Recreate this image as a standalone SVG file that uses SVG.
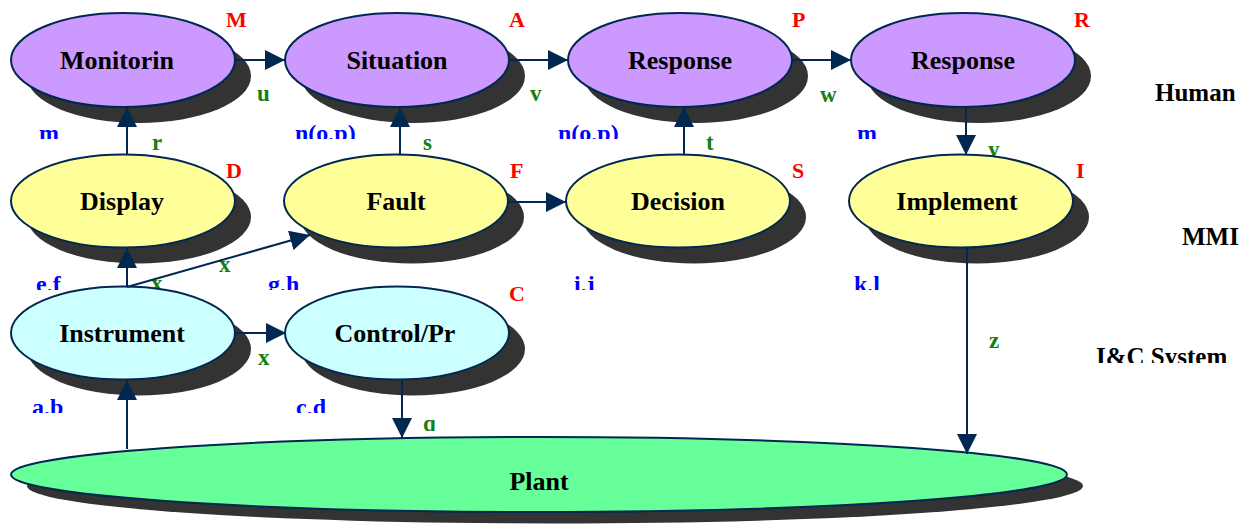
<svg xmlns="http://www.w3.org/2000/svg" width="1250" height="525" viewBox="0 0 1250 525">
<style>
.sh{fill:#333333}
.nd{stroke:#002850;stroke-width:2}
.hum{fill:#CC99FF}
.mmi{fill:#FFFF99}
.ics{fill:#CCFFFF}
.plt{fill:#66FF99}
.nl{font-family:"Liberation Serif","Times New Roman",serif;font-weight:bold;font-size:26px;fill:#000;text-anchor:middle}
.lay{font-family:"Liberation Serif","Times New Roman",serif;font-weight:bold;font-size:25px;fill:#000}
.rd{font-family:"Liberation Serif","Times New Roman",serif;font-weight:bold;font-size:22px;fill:#FF0000}
.gr{font-family:"Liberation Serif","Times New Roman",serif;font-weight:bold;font-size:23px;fill:#128012}
.bl{font-family:"Liberation Serif","Times New Roman",serif;font-weight:bold;font-size:24px;fill:#0000FF}
.cn{stroke:#002850;stroke-width:2;fill:none;marker-end:url(#ah)}
</style>
<defs>
<marker id="ah" markerUnits="userSpaceOnUse" markerWidth="20" markerHeight="20" refX="20" refY="10" orient="auto">
<path d="M0,0 L20,10 L0,20 z" fill="#002850"/>
</marker>
<clipPath id="c101" clipPathUnits="userSpaceOnUse"><rect x="0" y="0" width="1250" height="101"/></clipPath>
<clipPath id="c139" clipPathUnits="userSpaceOnUse"><rect x="0" y="100" width="1250" height="39"/></clipPath>
<clipPath id="c245" clipPathUnits="userSpaceOnUse"><rect x="0" y="200" width="1250" height="45"/></clipPath>
<clipPath id="c290" clipPathUnits="userSpaceOnUse"><rect x="0" y="250" width="1250" height="40"/></clipPath>
<clipPath id="c363" clipPathUnits="userSpaceOnUse"><rect x="0" y="320" width="1250" height="43"/></clipPath>
<clipPath id="c413" clipPathUnits="userSpaceOnUse"><rect x="0" y="380" width="1250" height="33"/></clipPath>
<clipPath id="c431" clipPathUnits="userSpaceOnUse"><rect x="0" y="400" width="1250" height="31"/></clipPath>
</defs>

<g id="layer-labels">
<text class="lay" x="1155" y="101" clip-path="url(#c101)">Human</text>
<text class="lay" x="1182" y="245" clip-path="url(#c245)">MMI</text>
<text class="lay" x="1096" y="365" clip-path="url(#c363)">I&amp;C System</text>
</g>

<g id="edge-labels">
<text class="gr" x="257" y="101" clip-path="url(#c101)">u</text>
<text class="gr" x="530" y="101" clip-path="url(#c101)">v</text>
<text class="gr" x="820" y="102">w</text>
<text class="gr" x="152" y="150">r</text>
<text class="gr" x="423" y="150">s</text>
<text class="gr" x="706" y="150">t</text>
<text class="gr" x="988" y="157">y</text>
<text class="gr" x="219" y="272">x</text>
<text class="gr" x="151" y="291">x</text>
<text class="gr" x="258" y="365">x</text>
<text class="gr" x="423" y="431" clip-path="url(#c431)">q</text>
<text class="gr" x="989" y="348">z</text>
<text class="bl" x="39" y="141" clip-path="url(#c139)">m</text>
<text class="bl" x="295" y="141" clip-path="url(#c139)">n(o,p)</text>
<text class="bl" x="558" y="141" clip-path="url(#c139)">n(o,p)</text>
<text class="bl" x="857" y="141" clip-path="url(#c139)">m</text>
<text class="bl" x="36" y="292" clip-path="url(#c290)">e,f</text>
<text class="bl" x="268" y="292" clip-path="url(#c290)">g,h</text>
<text class="bl" x="574" y="292" clip-path="url(#c290)">i,j</text>
<text class="bl" x="854" y="292" clip-path="url(#c290)">k,l</text>
<text class="bl" x="32" y="415" clip-path="url(#c413)">a,b</text>
<text class="bl" x="296" y="415" clip-path="url(#c413)">c,d</text>
</g>

<g id="node-monitoring">
<ellipse class="sh" cx="139" cy="76" rx="112" ry="47"/>
<ellipse class="nd hum" cx="123" cy="60" rx="112" ry="47"/>
<text class="nl" x="117" y="69">Monitorin</text>
<text class="rd" x="226" y="27">M</text>
</g>
<g id="node-situation">
<ellipse class="sh" cx="413" cy="76" rx="112" ry="47"/>
<ellipse class="nd hum" cx="397" cy="60" rx="112" ry="47"/>
<text class="nl" x="397" y="69">Situation</text>
<text class="rd" x="509" y="27">A</text>
</g>
<g id="node-response1">
<ellipse class="sh" cx="696" cy="76" rx="112" ry="47"/>
<ellipse class="nd hum" cx="680" cy="60" rx="112" ry="47"/>
<text class="nl" x="680" y="69">Response</text>
<text class="rd" x="792" y="27">P</text>
</g>
<g id="node-response2">
<ellipse class="sh" cx="979" cy="76" rx="112" ry="47"/>
<ellipse class="nd hum" cx="963" cy="60" rx="112" ry="47"/>
<text class="nl" x="963" y="69">Response</text>
<text class="rd" x="1074" y="27">R</text>
</g>

<g id="node-display">
<ellipse class="sh" cx="139" cy="217" rx="112" ry="46.5"/>
<ellipse class="nd mmi" cx="123" cy="201" rx="112" ry="46.5"/>
<text class="nl" x="122" y="210">Display</text>
<text class="rd" x="226" y="178">D</text>
</g>
<g id="node-fault">
<ellipse class="sh" cx="412" cy="217" rx="112" ry="46.5"/>
<ellipse class="nd mmi" cx="396" cy="201" rx="112" ry="46.5"/>
<text class="nl" x="396" y="210">Fault</text>
<text class="rd" x="510" y="178">F</text>
</g>
<g id="node-decision">
<ellipse class="sh" cx="694" cy="217" rx="112" ry="46.5"/>
<ellipse class="nd mmi" cx="678" cy="201" rx="112" ry="46.5"/>
<text class="nl" x="678" y="210">Decision</text>
<text class="rd" x="792" y="178">S</text>
</g>
<g id="node-implement">
<ellipse class="sh" cx="977" cy="217" rx="112" ry="46.5"/>
<ellipse class="nd mmi" cx="961" cy="201" rx="112" ry="46.5"/>
<text class="nl" x="957" y="210">Implement</text>
<text class="rd" x="1076" y="178">I</text>
</g>

<g id="node-instrument">
<ellipse class="sh" cx="139" cy="349" rx="112" ry="46.5"/>
<ellipse class="nd ics" cx="123" cy="333" rx="112" ry="46.5"/>
<text class="nl" x="122" y="342">Instrument</text>
</g>
<g id="node-control">
<ellipse class="sh" cx="413" cy="349" rx="112" ry="46.5"/>
<ellipse class="nd ics" cx="397" cy="333" rx="112" ry="46.5"/>
<text class="nl" x="395" y="342">Control/Pr</text>
<text class="rd" x="509" y="301">C</text>
</g>

<g id="node-plant">
<ellipse class="sh" cx="555" cy="486" rx="528" ry="37.5"/>
<ellipse class="nd plt" cx="539" cy="474.5" rx="528" ry="37.5"/>
<text class="nl" x="539" y="490">Plant</text>
</g>

<g id="connectors">
<line class="cn" x1="235" y1="60" x2="285" y2="60"/>
<line class="cn" x1="509" y1="60" x2="568" y2="60"/>
<line class="cn" x1="792" y1="60" x2="851" y2="60"/>
<line class="cn" x1="127" y1="155" x2="127" y2="107"/>
<line class="cn" x1="400" y1="155" x2="400" y2="107"/>
<line class="cn" x1="684" y1="155" x2="684" y2="107"/>
<line class="cn" x1="966" y1="107" x2="966" y2="155"/>
<line class="cn" x1="507" y1="202" x2="566" y2="202"/>
<line class="cn" x1="127" y1="287" x2="127" y2="248"/>
<line class="cn" x1="127" y1="287" x2="310" y2="235"/>
<line class="cn" x1="235" y1="333" x2="286" y2="333"/>
<line class="cn" x1="127" y1="449" x2="127" y2="380"/>
<line class="cn" x1="402" y1="380" x2="402" y2="438"/>
<line class="cn" x1="967" y1="248" x2="967" y2="454"/>
</g>
</svg>
